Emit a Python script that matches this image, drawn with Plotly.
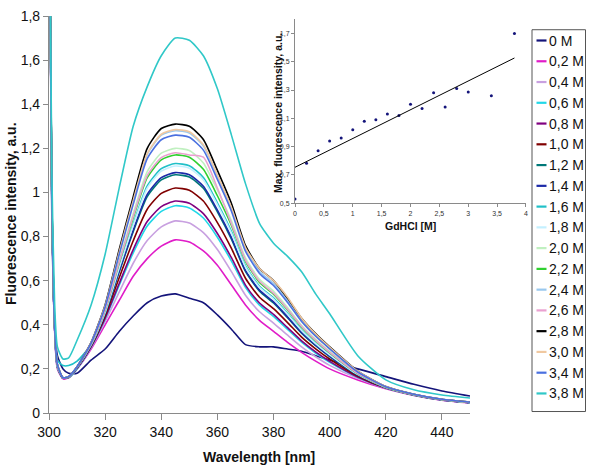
import numpy as np
import plotly.graph_objects as go

# ---------------- data ----------------
wavelength = [300, 301, 302, 303, 305, 307, 310, 315, 320, 325, 330, 335, 340, 345, 350,
              355, 360, 365, 370, 375, 380, 385, 390, 395, 400, 410, 420, 430, 440, 450]

labels = ["0 M", "0,2 M", "0,4 M", "0,6 M", "0,8 M", "1,0 M", "1,2 M", "1,4 M", "1,6 M",
          "1,8 M", "2,0 M", "2,2 M", "2,4 M", "2,6 M", "2,8 M", "3,0 M", "3,4 M", "3,8 M"]

colors = ["#14147a", "#e01cc8", "#c8a0e0", "#22d8e8", "#800080", "#800000", "#007878",
          "#1c2aa8", "#20c0c8", "#c4f0ff", "#c0f0c0", "#30d030", "#99c8ee", "#eaa0d0",
          "#000000", "#f0c8a0", "#4a70e0", "#30c8c8"]

c_0_0 = [2.5, 0.9, 0.40, 0.26, 0.20, 0.18, 0.18, 0.24, 0.29, 0.37, 0.44, 0.50, 0.53, 0.54, 0.52, 0.50, 0.445, 0.38, 0.31, 0.30, 0.30, 0.29, 0.28, 0.26, 0.24, 0.20, 0.165, 0.13, 0.10, 0.077]
c_0_2 = [2.5, 0.95, 0.38, 0.20, 0.155, 0.16, 0.20, 0.29, 0.40, 0.51, 0.62, 0.70, 0.757, 0.785, 0.775, 0.735, 0.67, 0.58, 0.49, 0.42, 0.37, 0.32, 0.275, 0.235, 0.20, 0.15, 0.11, 0.08, 0.058, 0.045]
c_0_4 = [2.5, 0.96, 0.38, 0.20, 0.16, 0.16, 0.20, 0.295, 0.415, 0.548, 0.679, 0.782, 0.844, 0.871, 0.861, 0.818, 0.741, 0.641, 0.534, 0.459, 0.408, 0.353, 0.30, 0.255, 0.216, 0.157, 0.112, 0.081, 0.059, 0.046]
c_0_6 = [2.5, 0.97, 0.39, 0.21, 0.16, 0.16, 0.20, 0.30, 0.427, 0.578, 0.726, 0.848, 0.914, 0.94, 0.93, 0.884, 0.797, 0.689, 0.57, 0.489, 0.438, 0.379, 0.321, 0.272, 0.23, 0.162, 0.113, 0.081, 0.059, 0.046]
c_0_8 = [2.5, 0.97, 0.39, 0.21, 0.157, 0.162, 0.203, 0.30, 0.43, 0.587, 0.741, 0.868, 0.936, 0.961, 0.951, 0.904, 0.814, 0.704, 0.58, 0.499, 0.447, 0.387, 0.327, 0.277, 0.234, 0.163, 0.113, 0.082, 0.059, 0.046]
c_1_0 = [2.5, 0.98, 0.39, 0.21, 0.158, 0.162, 0.205, 0.303, 0.44, 0.613, 0.781, 0.924, 0.996, 1.02, 1.01, 0.961, 0.863, 0.746, 0.611, 0.525, 0.473, 0.41, 0.344, 0.291, 0.245, 0.168, 0.114, 0.082, 0.06, 0.047]
c_1_2 = [2.5, 0.98, 0.39, 0.21, 0.158, 0.163, 0.206, 0.307, 0.451, 0.639, 0.822, 0.981, 1.057, 1.08, 1.07, 1.019, 0.912, 0.788, 0.642, 0.552, 0.499, 0.432, 0.362, 0.305, 0.256, 0.172, 0.116, 0.083, 0.06, 0.047]
c_1_4 = [2.5, 0.98, 0.39, 0.21, 0.158, 0.163, 0.206, 0.307, 0.452, 0.644, 0.829, 0.991, 1.067, 1.09, 1.08, 1.028, 0.92, 0.795, 0.647, 0.557, 0.504, 0.436, 0.365, 0.308, 0.258, 0.173, 0.116, 0.083, 0.06, 0.047]
c_1_6 = [2.5, 1.0, 0.42, 0.24, 0.215, 0.215, 0.235, 0.31, 0.459, 0.662, 0.857, 1.03, 1.108, 1.131, 1.121, 1.068, 0.953, 0.824, 0.668, 0.575, 0.522, 0.452, 0.377, 0.317, 0.266, 0.176, 0.117, 0.083, 0.061, 0.048]
c_1_8 = [2.5, 0.98, 0.39, 0.21, 0.16, 0.163, 0.207, 0.31, 0.457, 0.657, 0.85, 1.019, 1.097, 1.12, 1.11, 1.057, 0.944, 0.816, 0.662, 0.57, 0.517, 0.448, 0.374, 0.315, 0.264, 0.175, 0.116, 0.083, 0.06, 0.047]
c_2_0 = [2.5, 0.99, 0.40, 0.215, 0.16, 0.164, 0.208, 0.314, 0.471, 0.692, 0.904, 1.095, 1.178, 1.20, 1.19, 1.134, 1.01, 0.872, 0.703, 0.606, 0.552, 0.478, 0.397, 0.334, 0.279, 0.182, 0.118, 0.084, 0.061, 0.048]
c_2_2 = [2.5, 0.99, 0.40, 0.215, 0.16, 0.164, 0.208, 0.312, 0.466, 0.679, 0.884, 1.067, 1.148, 1.17, 1.16, 1.105, 0.985, 0.851, 0.688, 0.592, 0.539, 0.467, 0.389, 0.327, 0.273, 0.179, 0.117, 0.084, 0.061, 0.048]
c_2_4 = [2.5, 1.0, 0.40, 0.22, 0.16, 0.165, 0.21, 0.318, 0.485, 0.727, 0.959, 1.172, 1.26, 1.28, 1.27, 1.211, 1.075, 0.929, 0.745, 0.642, 0.587, 0.509, 0.421, 0.353, 0.294, 0.188, 0.119, 0.085, 0.062, 0.049]
c_2_6 = [2.5, 0.99, 0.40, 0.215, 0.16, 0.164, 0.208, 0.312, 0.468, 0.683, 0.891, 1.076, 1.158, 1.18, 1.17, 1.16, 1.02, 0.858, 0.693, 0.597, 0.543, 0.47, 0.392, 0.329, 0.275, 0.18, 0.118, 0.084, 0.061, 0.048]
c_2_8 = [2.6, 1.0, 0.40, 0.22, 0.16, 0.165, 0.21, 0.32, 0.49, 0.74, 0.98, 1.20, 1.29, 1.31, 1.30, 1.24, 1.10, 0.95, 0.76, 0.655, 0.60, 0.52, 0.43, 0.36, 0.30, 0.19, 0.12, 0.085, 0.062, 0.05]
c_3_0 = [2.5, 1.0, 0.40, 0.22, 0.16, 0.165, 0.21, 0.319, 0.486, 0.729, 0.963, 1.176, 1.264, 1.285, 1.275, 1.216, 1.079, 0.932, 0.75, 0.655, 0.60, 0.525, 0.43, 0.358, 0.298, 0.19, 0.12, 0.085, 0.062, 0.049]
c_3_4 = [2.5, 1.0, 0.40, 0.22, 0.16, 0.165, 0.21, 0.317, 0.481, 0.718, 0.946, 1.153, 1.239, 1.26, 1.25, 1.192, 1.059, 0.915, 0.734, 0.633, 0.578, 0.501, 0.415, 0.348, 0.291, 0.186, 0.119, 0.085, 0.062, 0.049]
c_3_8 = [2.6, 1.1, 0.50, 0.30, 0.245, 0.25, 0.33, 0.49, 0.72, 1.02, 1.30, 1.48, 1.62, 1.70, 1.69, 1.62, 1.47, 1.26, 1.04, 0.86, 0.77, 0.71, 0.64, 0.54, 0.45, 0.26, 0.15, 0.105, 0.082, 0.068]

series = [c_0_0, c_0_2, c_0_4, c_0_6, c_0_8, c_1_0, c_1_2, c_1_4, c_1_6, c_1_8,
          c_2_0, c_2_2, c_2_4, c_2_6, c_2_8, c_3_0, c_3_4, c_3_8]

# inset
gdhcl = [0, 0.2, 0.4, 0.6, 0.8, 1.0, 1.2, 1.4, 1.6, 1.8, 2.0, 2.2, 2.4, 2.6, 2.8, 3.0, 3.4, 3.8]
max_intensity = [0.53, 0.783, 0.871, 0.94, 0.961, 1.02, 1.08, 1.09, 1.131, 1.12, 1.20, 1.17,
                 1.28, 1.18, 1.31, 1.285, 1.26, 1.70]

# ---------------- layout geometry (pixels) ----------------
W, H = 589, 472
ML, MR, MT, MB = 49, 59, 8, 59
PW, PH = W - ML - MR, H - MT - MB


def px(x):
    return (x - ML) / PW


def py(y):
    return (H - MB - y) / PH


FONT = "Liberation Sans, Arial, sans-serif"
AX = "#8a8a8a"

fig = go.Figure()

for lab, col, vals in zip(labels, colors, series):
    fig.add_trace(go.Scatter(x=wavelength, y=vals, mode="lines", name=lab,
                             line=dict(color=col, width=1.6, shape="spline", smoothing=0.6),
                             showlegend=False, xaxis="x", yaxis="y"))

# inset scatter + trend
fig.add_trace(go.Scatter(x=gdhcl, y=max_intensity, mode="markers",
                         marker=dict(color="#14147a", size=3), showlegend=False,
                         xaxis="x2", yaxis="y2"))
slope, intercept = np.polyfit(gdhcl, max_intensity, 1)
tx = [min(gdhcl), max(gdhcl)]
fig.add_trace(go.Scatter(x=tx, y=[intercept + slope * v for v in tx], mode="lines",
                         line=dict(color="black", width=1), showlegend=False,
                         xaxis="x2", yaxis="y2"))

shapes = []
annotations = []
# custom legend box
shapes.append(dict(type="rect", xref="paper", yref="paper",
                   x0=px(532), x1=px(585.5), y0=py(411.5), y1=py(22),
                   line=dict(color="#555555", width=1), fillcolor="white", layer="above"))
for i, (lab, col) in enumerate(zip(labels, colors)):
    yy = 33 + i * 21.18
    shapes.append(dict(type="line", xref="paper", yref="paper",
                       x0=px(536.5), x1=px(546.5), y0=py(yy), y1=py(yy),
                       line=dict(color=col, width=2.2), layer="above"))
    annotations.append(dict(text=lab, xref="paper", yref="paper", x=px(546.5), y=py(yy),
                            xanchor="left", yanchor="middle", showarrow=False,
                            font=dict(family=FONT, size=14, color="#111111")))

# axis titles as annotations for precise placement
annotations.append(dict(text="<b>Fluorescence intensity, a.u.</b>", xref="paper", yref="paper",
                        x=px(11), y=py(210), textangle=-90, showarrow=False,
                        xanchor="center", yanchor="middle",
                        font=dict(family=FONT, size=14, color="#111111")))
annotations.append(dict(text="<b>Wavelength [nm]</b>", xref="paper", yref="paper",
                        x=px(259), y=py(458), showarrow=False,
                        xanchor="center", yanchor="middle",
                        font=dict(family=FONT, size=14, color="#111111")))
annotations.append(dict(text="<b>Max. fluorescence intensity, a.u.</b>", xref="paper", yref="paper",
                        x=px(278), y=py(107), textangle=-90, showarrow=False,
                        xanchor="center", yanchor="middle",
                        font=dict(family=FONT, size=10.5, color="#111111")))
annotations.append(dict(text="<b>GdHCl [M]</b>", xref="paper", yref="paper",
                        x=px(410), y=py(222), showarrow=False,
                        xanchor="center", yanchor="middle",
                        font=dict(family=FONT, size=10.5, color="#111111")))

fig.update_layout(
    width=W, height=H, margin=dict(l=ML, r=MR, t=MT, b=MB),
    paper_bgcolor="white", plot_bgcolor="rgba(0,0,0,0)",
    separators=", ", showlegend=False,
    font=dict(family=FONT, size=14, color="#111111"),
    shapes=shapes, annotations=annotations,
    xaxis=dict(domain=[0, px(470)], range=[300, 450], tick0=300, dtick=20,
               showgrid=False, zeroline=False, showline=True, linecolor=AX, linewidth=1.2,
               ticks="outside", ticklen=6, tickcolor=AX, anchor="y",
               ticklabeloverflow="allow",
               tickfont=dict(family=FONT, size=14, color="#111111")),
    yaxis=dict(domain=[0, 1], range=[0, 1.8001], tick0=0, dtick=0.2,
               showgrid=False, zeroline=False, showline=True, linecolor=AX, linewidth=1.2,
               ticks="outside", ticklen=5, tickcolor=AX, anchor="x",
               ticklabeloverflow="allow",
               tickfont=dict(family=FONT, size=14, color="#111111")),
    xaxis2=dict(domain=[px(295), px(526)], range=[0, 4.0001], tick0=0, dtick=0.5,
                showgrid=False, zeroline=False, showline=True, linecolor=AX, linewidth=1,
                ticks="outside", ticklen=3, tickcolor=AX, anchor="y2",
                tickfont=dict(family=FONT, size=7, color="#333333")),
    yaxis2=dict(domain=[py(199), py(11.3)], range=[0.5, 1.8], tick0=0.5, dtick=0.2,
                showgrid=False, zeroline=False, showline=True, linecolor=AX, linewidth=1,
                ticks="outside", ticklen=3, tickcolor=AX, anchor="x2",
                tickfont=dict(family=FONT, size=7, color="#333333")),
)

fig.write_html("out.html", config={"displayModeBar": False},
               post_script="document.body.style.margin='0px';")
